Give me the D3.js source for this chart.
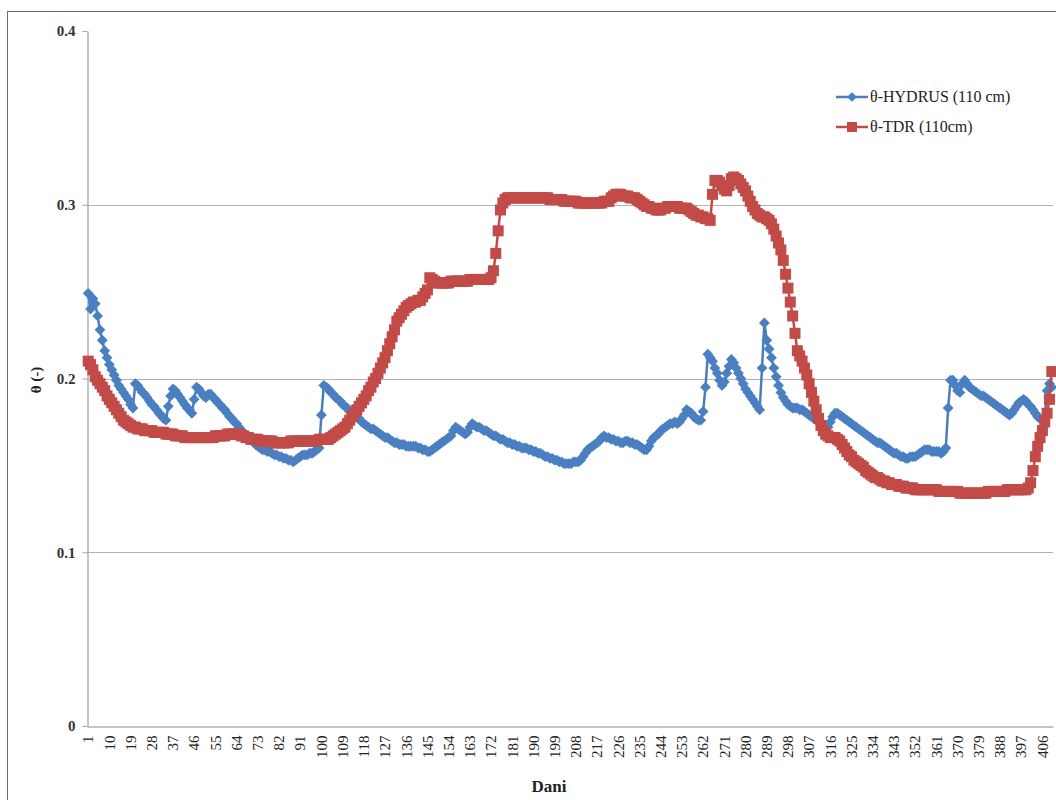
<!DOCTYPE html>
<html>
<head>
<meta charset="utf-8">
<script src="https://cdn.jsdelivr.net/npm/d3@7"></script>
<style>
  html, body { margin: 0; padding: 0; background: #fff; }
  svg { display: block; }
</style>
</head>
<body>
<svg id="chart" width="1056" height="800"></svg>
<script>
// Day index of each measurement (categories on the x axis)
const days = [];
for (let d = 1; d <= 410; d++) days.push(d);

// Category labels shown under the axis (every 9th day)
const tickDays = [1, 10, 19, 28, 37, 46, 55, 64, 73, 82, 91, 100, 109, 118, 127, 136, 145,
  154, 163, 172, 181, 190, 199, 208, 217, 226, 235, 244, 253, 262, 271, 280, 289, 298,
  307, 316, 325, 334, 343, 352, 361, 370, 379, 388, 397, 406];

const yTicks = [0, 0.1, 0.2, 0.3, 0.4];

// θ simulated by HYDRUS at 110 cm
const hydrus = [
  0.249, 0.240, 0.246, 0.243, 0.236, 0.228, 0.222, 0.216, 0.212, 0.208,
  0.205, 0.202, 0.199, 0.196, 0.194, 0.192, 0.190, 0.188, 0.185, 0.183,
  0.197, 0.196, 0.194, 0.192, 0.191, 0.189, 0.187, 0.185, 0.184, 0.182,
  0.180, 0.179, 0.177, 0.176, 0.184, 0.190, 0.194, 0.193, 0.191, 0.189,
  0.187, 0.185, 0.183, 0.182, 0.180, 0.188, 0.195, 0.194, 0.192, 0.190,
  0.189, 0.191, 0.191, 0.189, 0.188, 0.186, 0.185, 0.183, 0.182, 0.180,
  0.178, 0.177, 0.175, 0.174, 0.172, 0.170, 0.169, 0.167, 0.166, 0.165,
  0.164, 0.162, 0.161, 0.160, 0.159, 0.159, 0.158, 0.158, 0.157, 0.156,
  0.156, 0.155, 0.155, 0.154, 0.154, 0.153, 0.153, 0.152, 0.153, 0.154,
  0.155, 0.156, 0.156, 0.156, 0.157, 0.157, 0.158, 0.159, 0.160, 0.179,
  0.196, 0.195, 0.194, 0.192, 0.191, 0.189, 0.188, 0.187, 0.185, 0.184,
  0.183, 0.181, 0.180, 0.179, 0.178, 0.177, 0.175, 0.174, 0.173, 0.172,
  0.171, 0.171, 0.170, 0.169, 0.168, 0.167, 0.166, 0.166, 0.165, 0.164,
  0.163, 0.163, 0.162, 0.162, 0.162, 0.161, 0.161, 0.161, 0.161, 0.161,
  0.160, 0.160, 0.159, 0.159, 0.158, 0.158, 0.159, 0.160, 0.161, 0.162,
  0.163, 0.164, 0.165, 0.166, 0.167, 0.170, 0.172, 0.171, 0.170, 0.169,
  0.168, 0.169, 0.172, 0.174, 0.173, 0.172, 0.172, 0.171, 0.170, 0.170,
  0.169, 0.168, 0.167, 0.167, 0.166, 0.165, 0.165, 0.164, 0.163, 0.163,
  0.162, 0.162, 0.161, 0.161, 0.160, 0.160, 0.160, 0.159, 0.159, 0.158,
  0.158, 0.157, 0.157, 0.156, 0.155, 0.155, 0.154, 0.154, 0.153, 0.153,
  0.152, 0.152, 0.151, 0.151, 0.151, 0.151, 0.152, 0.152, 0.152, 0.153,
  0.155, 0.157, 0.159, 0.160, 0.161, 0.162, 0.163, 0.164, 0.166, 0.167,
  0.166, 0.166, 0.165, 0.165, 0.164, 0.164, 0.163, 0.163, 0.164, 0.164,
  0.163, 0.163, 0.162, 0.162, 0.161, 0.160, 0.159, 0.159, 0.161, 0.164,
  0.166, 0.167, 0.168, 0.170, 0.171, 0.172, 0.173, 0.174, 0.174, 0.175,
  0.174, 0.175, 0.177, 0.179, 0.182, 0.181, 0.180, 0.178, 0.177, 0.176,
  0.176, 0.181, 0.195, 0.214, 0.212, 0.210, 0.206, 0.203, 0.199, 0.196,
  0.198, 0.203, 0.207, 0.211, 0.209, 0.206, 0.203, 0.200, 0.197, 0.194,
  0.192, 0.190, 0.188, 0.186, 0.184, 0.182, 0.206, 0.232, 0.222, 0.217,
  0.212, 0.206, 0.201, 0.196, 0.192, 0.189, 0.187, 0.185, 0.184, 0.183,
  0.183, 0.183, 0.182, 0.182, 0.181, 0.180, 0.179, 0.178, 0.177, 0.176,
  0.175, 0.174, 0.173, 0.172, 0.172, 0.175, 0.178, 0.180, 0.180, 0.179,
  0.178, 0.177, 0.176, 0.175, 0.174, 0.173, 0.172, 0.171, 0.170, 0.169,
  0.168, 0.167, 0.166, 0.165, 0.164, 0.163, 0.163, 0.162, 0.161, 0.160,
  0.159, 0.158, 0.157, 0.157, 0.156, 0.155, 0.155, 0.154, 0.154, 0.155,
  0.155, 0.155, 0.156, 0.157, 0.158, 0.159, 0.159, 0.159, 0.158, 0.158,
  0.158, 0.158, 0.157, 0.158, 0.160, 0.183, 0.199, 0.199, 0.196, 0.193,
  0.192, 0.197, 0.199, 0.197, 0.195, 0.194, 0.193, 0.192, 0.191, 0.190,
  0.190, 0.189, 0.188, 0.187, 0.186, 0.185, 0.184, 0.183, 0.182, 0.181,
  0.180, 0.179, 0.180, 0.182, 0.184, 0.186, 0.187, 0.188, 0.187, 0.185,
  0.184, 0.182, 0.180, 0.178, 0.177, 0.176, 0.178, 0.193, 0.197, 0.195
];

// θ measured by TDR at 110 cm
const tdr = [
  0.210, 0.208, 0.205, 0.201, 0.199, 0.197, 0.195, 0.193, 0.190, 0.188,
  0.186, 0.184, 0.182, 0.180, 0.178, 0.176, 0.175, 0.174, 0.173, 0.172,
  0.172, 0.171, 0.171, 0.171, 0.170, 0.170, 0.170, 0.170, 0.169, 0.169,
  0.169, 0.169, 0.169, 0.168, 0.168, 0.168, 0.168, 0.167, 0.167, 0.167,
  0.167, 0.166, 0.166, 0.166, 0.166, 0.166, 0.166, 0.166, 0.166, 0.166,
  0.166, 0.166, 0.166, 0.166, 0.167, 0.167, 0.167, 0.167, 0.167, 0.168,
  0.168, 0.168, 0.168, 0.168, 0.168, 0.167, 0.167, 0.166, 0.166, 0.165,
  0.165, 0.165, 0.165, 0.164, 0.164, 0.164, 0.164, 0.164, 0.164, 0.163,
  0.163, 0.163, 0.163, 0.163, 0.163, 0.163, 0.164, 0.164, 0.164, 0.164,
  0.164, 0.164, 0.164, 0.164, 0.164, 0.164, 0.164, 0.164, 0.165, 0.165,
  0.165, 0.165, 0.165, 0.166, 0.167, 0.168, 0.169, 0.170, 0.171, 0.172,
  0.174, 0.176, 0.178, 0.180, 0.182, 0.184, 0.186, 0.188, 0.190, 0.193,
  0.195, 0.198, 0.200, 0.203, 0.206, 0.209, 0.212, 0.216, 0.220, 0.224,
  0.228, 0.233, 0.235, 0.237, 0.239, 0.241, 0.242, 0.243, 0.244, 0.244,
  0.245, 0.245, 0.247, 0.249, 0.251, 0.258, 0.257, 0.256, 0.255, 0.255,
  0.255, 0.255, 0.255, 0.255, 0.256, 0.256, 0.256, 0.256, 0.256, 0.256,
  0.256, 0.256, 0.257, 0.257, 0.257, 0.257, 0.257, 0.257, 0.257, 0.257,
  0.257, 0.258, 0.262, 0.272, 0.285, 0.297, 0.301, 0.303, 0.304, 0.304,
  0.304, 0.304, 0.304, 0.304, 0.304, 0.304, 0.304, 0.304, 0.304, 0.304,
  0.304, 0.304, 0.304, 0.304, 0.304, 0.304, 0.303, 0.303, 0.303, 0.303,
  0.303, 0.303, 0.302, 0.302, 0.302, 0.302, 0.302, 0.302, 0.301, 0.301,
  0.301, 0.301, 0.301, 0.301, 0.301, 0.301, 0.301, 0.301, 0.301, 0.302,
  0.302, 0.302, 0.304, 0.305, 0.306, 0.306, 0.306, 0.305, 0.305, 0.305,
  0.304, 0.304, 0.304, 0.303, 0.302, 0.301, 0.300, 0.299, 0.299, 0.298,
  0.298, 0.297, 0.297, 0.297, 0.298, 0.298, 0.299, 0.299, 0.299, 0.299,
  0.299, 0.298, 0.298, 0.298, 0.298, 0.297, 0.296, 0.295, 0.294, 0.294,
  0.293, 0.293, 0.292, 0.292, 0.291, 0.306, 0.314, 0.314, 0.313, 0.311,
  0.309, 0.308, 0.311, 0.315, 0.316, 0.315, 0.314, 0.312, 0.310, 0.308,
  0.305, 0.302, 0.299, 0.297, 0.295, 0.294, 0.293, 0.293, 0.292, 0.291,
  0.289, 0.286, 0.282, 0.278, 0.274, 0.268, 0.260, 0.252, 0.244, 0.236,
  0.226, 0.216, 0.213, 0.210, 0.206, 0.202, 0.197, 0.192, 0.187, 0.182,
  0.177, 0.173, 0.170, 0.168, 0.167, 0.166, 0.166, 0.166, 0.165, 0.164,
  0.162, 0.160, 0.158, 0.156, 0.155, 0.153, 0.152, 0.151, 0.150, 0.149,
  0.147, 0.146, 0.145, 0.144, 0.143, 0.143, 0.142, 0.141, 0.141, 0.140,
  0.140, 0.139, 0.139, 0.139, 0.138, 0.138, 0.138, 0.137, 0.137, 0.137,
  0.137, 0.136, 0.136, 0.136, 0.136, 0.136, 0.136, 0.136, 0.136, 0.136,
  0.136, 0.135, 0.135, 0.135, 0.135, 0.135, 0.135, 0.135, 0.135, 0.135,
  0.134, 0.134, 0.134, 0.134, 0.134, 0.134, 0.134, 0.134, 0.134, 0.134,
  0.134, 0.134, 0.135, 0.135, 0.135, 0.135, 0.135, 0.135, 0.135, 0.135,
  0.136, 0.136, 0.136, 0.136, 0.136, 0.136, 0.136, 0.136, 0.136, 0.137,
  0.140, 0.147, 0.155, 0.161, 0.166, 0.170, 0.175, 0.180, 0.188, 0.204
];

const seriesNames = ["θ-HYDRUS (110 cm)", "θ-TDR (110cm)"];

const serif = "'Liberation Serif', 'Times New Roman', serif";
const svg = d3.select("#chart").attr("font-family", serif);
const plot = { left: 87, right: 1053, top: 31, bottom: 726 };

// Outer chart frame
svg.append("rect")
  .attr("x", 7.5).attr("y", 11.5)
  .attr("width", 1060).attr("height", 800)
  .attr("fill", "none").attr("stroke", "#6f6f6f").attr("stroke-width", 1);

const x = d3.scaleBand().domain(days).range([plot.left, plot.right]).padding(0);
const cx = d => x(d) + x.bandwidth() / 2;
const y = d3.scaleLinear().domain([0, 0.4]).range([plot.bottom, plot.top]);

// Horizontal gridlines
svg.append("g")
  .selectAll("line")
  .data(yTicks.filter(v => v > 0 && v < 0.4))
  .join("line")
  .attr("x1", plot.left).attr("x2", plot.right)
  .attr("y1", d => Math.round(y(d)) + 0.5).attr("y2", d => Math.round(y(d)) + 0.5)
  .attr("stroke", "#b3b3b3").attr("stroke-width", 1.2);

// Y axis
const yAxis = svg.append("g")
  .attr("transform", `translate(${plot.left + 0.5},0)`)
  .call(d3.axisLeft(y).tickValues(yTicks).tickSize(5).tickSizeOuter(0)
    .tickFormat(d => d === 0 ? "0" : d3.format(".1f")(d)));
yAxis.attr("font-family", serif);
yAxis.select(".domain").attr("stroke", "#a6a6a6").attr("stroke-width", 1.3);
yAxis.selectAll(".tick line").attr("stroke", "#a6a6a6");
yAxis.selectAll(".tick text")
  .attr("x", -12)
  .attr("font-size", 15).attr("font-weight", "bold").attr("fill", "#333");

// X axis
const xAxis = svg.append("g")
  .attr("transform", `translate(0,${plot.bottom + 0.5})`)
  .call(d3.axisBottom(x).tickValues(tickDays).tickSize(0).tickSizeOuter(0));
xAxis.attr("font-family", serif);
xAxis.select(".domain").attr("stroke", "#b0b0b0").attr("stroke-width", 1.3);
xAxis.selectAll(".tick text")
  .attr("font-size", 15).attr("fill", "#222")
  .attr("transform", "rotate(-90)")
  .attr("x", -9).attr("y", 0).attr("dy", "0.35em")
  .attr("text-anchor", "end");

// Axis titles
svg.append("text")
  .attr("x", 549).attr("y", 792)
  .attr("text-anchor", "middle")
  .attr("font-size", 17).attr("font-weight", "bold").attr("fill", "#222")
  .text("Dani");
svg.append("text")
  .attr("transform", `translate(41,380) rotate(-90)`)
  .attr("text-anchor", "middle")
  .attr("font-size", 15).attr("font-weight", "bold").attr("fill", "#222")
  .text("θ (-)");

const line = d3.line().x((v, i) => cx(days[i])).y(v => y(v));

const blueLine = "#4a7ebb", blueMark = "#4a7fc1";
const redLine = "#be4b48", redMark = "#c24a47";

// HYDRUS series: line with diamond markers
svg.append("path").datum(hydrus)
  .attr("d", line).attr("fill", "none")
  .attr("stroke", blueLine).attr("stroke-width", 2.5).attr("stroke-linejoin", "round");
const diamond = d3.symbol().type(d3.symbolDiamond2).size(75);
svg.append("g").selectAll("path")
  .data(hydrus)
  .join("path")
  .attr("d", diamond)
  .attr("transform", (v, i) => `translate(${cx(days[i])},${y(v)})`)
  .attr("fill", blueMark);

// TDR series: line with square markers
svg.append("path").datum(tdr)
  .attr("d", line).attr("fill", "none")
  .attr("stroke", redLine).attr("stroke-width", 2.5).attr("stroke-linejoin", "round");
const sq = 11;
svg.append("g").selectAll("rect")
  .data(tdr)
  .join("rect")
  .attr("x", (v, i) => cx(days[i]) - sq / 2)
  .attr("y", v => y(v) - sq / 2)
  .attr("width", sq).attr("height", sq)
  .attr("fill", redMark);

// Legend
const legend = svg.append("g").attr("font-family", serif);
const legendRows = [
  { name: seriesNames[0], color: blueLine, fill: blueMark, shape: "diamond", yy: 97 },
  { name: seriesNames[1], color: redLine, fill: redMark, shape: "square", yy: 127 }
];
legendRows.forEach(r => {
  legend.append("line")
    .attr("x1", 836).attr("x2", 868).attr("y1", r.yy).attr("y2", r.yy)
    .attr("stroke", r.color).attr("stroke-width", 2.5);
  if (r.shape === "diamond") {
    legend.append("path").attr("d", d3.symbol().type(d3.symbolDiamond2).size(60))
      .attr("transform", `translate(852,${r.yy})`).attr("fill", r.fill);
  } else {
    legend.append("rect").attr("x", 847).attr("y", r.yy - 5)
      .attr("width", 10).attr("height", 10).attr("fill", r.fill);
  }
  legend.append("text")
    .attr("x", 870).attr("y", r.yy + 5)
    .attr("font-size", 16).attr("fill", "#222")
    .text(r.name);
});
</script>
</body>
</html>
